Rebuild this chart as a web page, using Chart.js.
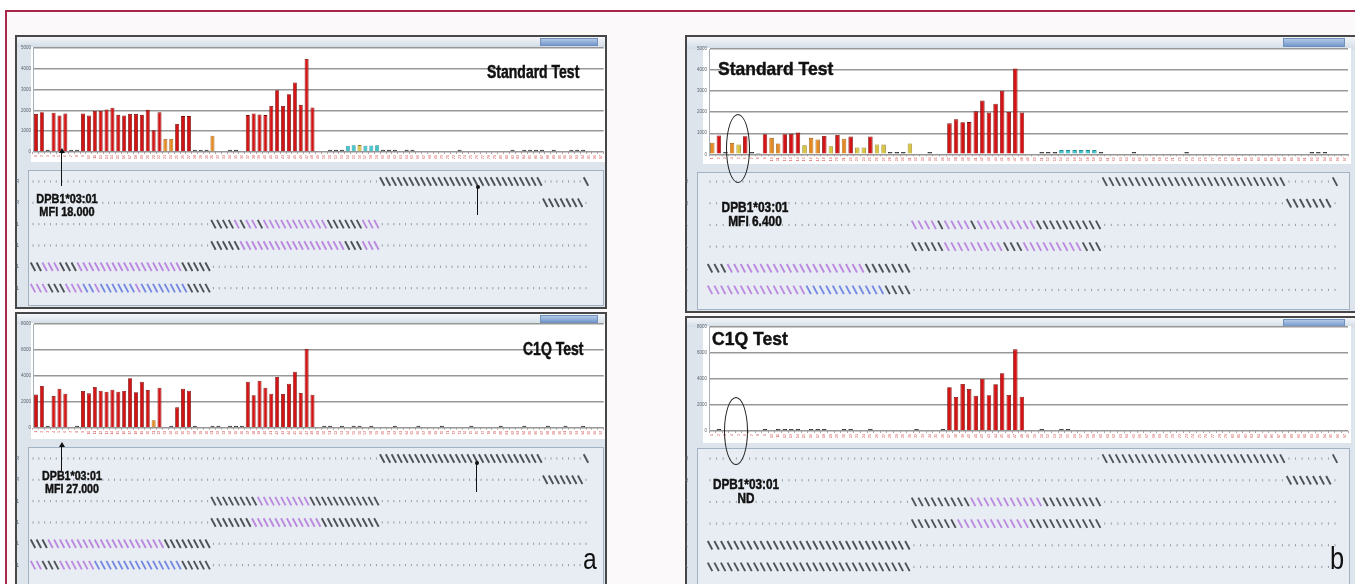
<!DOCTYPE html>
<html>
<head>
<meta charset="utf-8">
<title>Standard test vs C1Q test</title>
<script src="https://cdn.jsdelivr.net/npm/chart.js@4.4.1/dist/chart.umd.min.js"></script>
<style>
  html, body { margin: 0; padding: 0; }
  body { width: 1355px; height: 584px; overflow: hidden; position: relative; background: #ffffff;
         font-family: 'Liberation Sans', Arial, sans-serif; }
  .abs { position: absolute; box-sizing: border-box; }
  canvas.abs { box-sizing: content-box; }
  .frame { background: #fcf9fa; border-top: 2px solid #a8284a; border-left: 2px solid #a8284a; }
  .panel { background: #dde4ec; border: 2px solid #474747; }
  .strip { background: linear-gradient(#f3f6f9, #d3dce6); }
  .plot { background: #ffffff; }
  .annot { background: #e8edf3; border: 1px solid #a3b2c2; }
  .drop { background: linear-gradient(#b2c8e6, #7599cc); border: 1px solid #7090c0; }
  .txt { white-space: nowrap; color: #111; font-weight: bold; line-height: 1; -webkit-text-stroke: 0.45px #111; }
  .ell { border: 1.4px solid #1e1e1e; border-radius: 50%; }
</style>
</head>
<body>
<script>
// bead numbers under the bars
const beadLabels = ['1','2','3','4','5','6','7','8','9','10','11','12','13','14','15','16','17','18','19','20',
  '21','22','23','24','25','26','27','28','29','30','31','32','33','34','35','36','37','38','39','40',
  '41','42','43','44','45','46','47','48','49','50','51','52','53','54','55','56','57','58','59','60',
  '61','62','63','64','65','66','67','68','69','70','71','72','73','74','75','76','77','78','79','80',
  '81','82','83','84','85','86','87','88','89','90','91','92','93','94','95','96','97'];
const stdTicks = [0, 1000, 2000, 3000, 4000, 5000];
const c1qTicks = [0, 2000, 4000, 6000, 8000];

// MFI per bead, panel a (standard test / C1Q test)
const aStdMfi = [1830,1910,110,1880,1750,1850,110,110,1850,1750,
  1970,1970,2040,2120,1780,1750,1830,1830,1780,2020,
  1040,1900,620,620,1340,1720,1720,110,110,110,
  780,0,0,110,110,0,1770,1850,1800,1770,
  2210,2960,2210,2770,3330,2260,4460,2130,0,0,
  110,110,110,300,320,330,300,310,320,110,
  110,110,0,110,110,0,0,0,0,0,
  0,0,110,0,0,0,0,0,0,0,
  0,110,0,110,110,110,110,0,110,0,
  0,110,110,110,0,0,0];
const aStdClass = 'rrdrrrddrr' + 'rrrrrrrrrr' + 'rroorrrddd' + 'o--dd-rrrr' + 'rrrrrrrr--' +
  'dddccycccd' + 'dd-dd-----' + '--d-------' + '-d-dddd-d-' + '-ddd---';

const aC1qMfi = [2570,3220,150,2440,3010,2620,0,150,2830,2650,
  3140,2860,2780,2930,2780,2830,3810,2730,3550,2910,
  570,3090,0,150,1570,3010,2860,150,0,0,
  150,150,0,150,150,150,3550,2500,3630,3090,
  2620,3910,2600,3400,4320,2680,6070,2550,0,150,
  150,0,150,0,150,150,0,150,0,0,
  0,150,0,0,0,150,0,0,0,150,
  0,0,0,0,150,0,0,0,0,150,
  0,0,0,150,0,0,0,150,0,0,
  150,0,0,150,0,0,0];
const aC1qClass = 'rrdrrr-drr' + 'rrrrrrrrrr' + 'or-drrrd--' + 'dd-dddrrrr' + 'rrrrrrrr-d' +
  'd-d-dd-d--' + '-d---d---d' + '----d----d' + '---d---d--' + 'd--d---';

// MFI per bead, panel b
const bStdMfi = [550,890,110,540,470,860,110,60,950,780,
  510,950,970,1030,430,780,700,870,380,920,
  740,840,320,320,850,470,460,110,110,110,
  510,0,0,110,0,0,1470,1660,1520,1530,
  2040,2550,1980,2400,3020,2010,4080,1980,0,0,
  110,110,110,200,200,200,200,200,200,110,
  0,0,0,0,110,0,0,0,0,0,
  0,0,110,0,0,0,0,0,0,0,
  0,0,0,0,0,0,0,0,0,0,
  0,110,110,110,0,0,0];
const bStdClass = 'ordoyrddro' + 'orrryooryr' + 'oryyryyddd' + 'y--d--rrrr' + 'rrrrrrrr--' +
  'dddccccccd' + '----d-----' + '--d-------' + '----------' + '-ddd---';

const bC1qMfi = [0,150,0,0,0,0,0,0,150,0,
  150,150,150,150,0,150,150,150,0,0,
  150,150,0,0,150,0,0,0,0,0,
  0,150,0,0,0,150,3340,2600,3590,3210,
  2700,4000,2730,3570,4410,2750,6240,2620,0,0,
  150,0,0,150,150,0,0,0,0,0,
  0,0,0,0,0,0,0,0,0,0,
  0,0,0,0,0,0,0,0,0,0,
  0,0,0,0,0,0,0,0,0,0,
  0,0,0,0,0,0,0];
const bC1qClass = '-d------d-' + 'dddd-ddd--' + 'dd--d-----' + '-d---drrrr' + 'rrrrrrrr--' +
  'd--dd-----' + '----------' + '----------' + '----------' + '-------';

// antigen strip under each chart: which bead slots carry each locus
const hlaRows = ['DR', 'DR', 'DQA1', 'DQB1', 'DPA1', 'DPB1'];
const slotCount = 96;
const hatchFrom = [60, 88, 31, 31, 0, 0];
const hatchTo = [87, 94, 59, 59, 30, 30];
const hatchExtra = [[95], [], [], [], [], []];

const fills = { r: '#d41414', o: '#e58a22', y: '#d8c440', c: '#40c4cc', d: '#333333', '-': '#333333' };
const edges = { r: '#7a0808', o: '#9a5a12', y: '#8a7a1c', c: '#1f8a90', d: '#1e1e1e', '-': '#1e1e1e' };
const tones = { g: '#4e5257', p: '#bb8ae0', b: '#7488e2' };

function place(cls, l, t, w, h) {
  const d = document.createElement('div');
  d.className = 'abs ' + cls;
  d.style.left = l + 'px';
  d.style.top = t + 'px';
  d.style.width = w + 'px';
  d.style.height = h + 'px';
  document.body.appendChild(d);
  return d;
}

function canvasAt(l, t, w, h) {
  const c = document.createElement('canvas');
  c.className = 'abs';
  c.width = w;
  c.height = h;
  c.style.left = l + 'px';
  c.style.top = t + 'px';
  document.body.appendChild(c);
  return c;
}

function barChart(l, t, w, h, values, classes, ticks, lay) {
  const cv = canvasAt(l, t, w, h);
  const cls = classes.split('');
  new Chart(cv, {
    type: 'bar',
    data: {
      labels: beadLabels,
      datasets: [{
        data: values,
        backgroundColor: cls.map(c => fills[c]),
        borderColor: cls.map(c => edges[c]),
        borderWidth: 0.8,
        borderSkipped: 'start',
        barPercentage: lay.bar,
        categoryPercentage: 1
      }]
    },
    options: {
      responsive: false,
      animation: false,
      events: [],
      layout: { autoPadding: false, padding: { top: lay.padTop, right: lay.padRight, left: 0, bottom: 0 } },
      plugins: { legend: { display: false }, tooltip: { enabled: false } },
      scales: {
        x: {
          grid: { display: true, drawOnChartArea: false, tickLength: 2, color: '#b9a0a0' },
          border: { display: false },
          ticks: { autoSkip: false, maxRotation: 90, minRotation: 90, font: { size: 3.5 }, color: '#d24848', padding: 1 },
          afterFit: s => { s.height = lay.xh; }
        },
        y: {
          min: 0,
          max: ticks[ticks.length - 1],
          ticks: { stepSize: ticks[1] - ticks[0], font: { size: 4.5 }, color: '#5a636c', padding: 2,
                   callback: v => ticks.includes(v) ? String(v) : '' },
          grid: { color: '#979797', lineWidth: 1.4, drawTicks: false },
          border: { display: true, color: '#a8b0b8' },
          afterFit: s => { s.width = lay.yw; }
        }
      }
    }
  });
}

function hlaChart(l, t, w, h, lay, colours) {
  const cv = canvasAt(l, t, w, h);
  const hatch = [], hatchCol = [], dots = [];
  hlaRows.forEach((name, r) => {
    const on = new Set(hatchExtra[r]);
    for (let s = hatchFrom[r]; s <= hatchTo[r]; s++) on.add(s);
    const pat = colours[r] || '';
    let k = 0;
    for (let s = 0; s < slotCount; s++) {
      if (on.has(s)) {
        hatch.push({ x: s, y: r });
        hatchCol.push(tones[pat[k++]] || tones.g);
      } else {
        dots.push({ x: s, y: r });
      }
    }
  });
  new Chart(cv, {
    type: 'scatter',
    data: {
      datasets: [
        { data: dots, pointStyle: 'line', pointRadius: 1.1, pointRotation: 90,
          pointBorderColor: '#969ca4', pointBorderWidth: 1 },
        { data: hatch, pointStyle: 'line', pointRadius: 4.8, pointRotation: 62,
          pointBorderColor: hatchCol, pointBorderWidth: 1.9 }
      ]
    },
    options: {
      responsive: false,
      animation: false,
      events: [],
      layout: { autoPadding: false, padding: { top: 0, bottom: 0, left: 0, right: lay.padRight } },
      plugins: { legend: { display: false }, tooltip: { enabled: false } },
      scales: {
        x: { type: 'linear', display: false, min: lay.min, max: lay.max },
        y: {
          type: 'linear', reverse: true, min: -0.35, max: 5.65,
          afterBuildTicks: s => { s.ticks = hlaRows.map((_, i) => ({ value: i })); },
          ticks: { callback: (v, i) => hlaRows[i] || '', font: { size: 5 }, color: '#55606a', padding: 1 },
          grid: { display: false },
          border: { display: false },
          afterFit: s => { s.width = lay.yw; }
        }
      }
    }
  });
}

function text(str, l, t, size, sx, weight) {
  const d = document.createElement('div');
  d.className = 'abs txt';
  d.textContent = str;
  d.style.left = l + 'px';
  d.style.top = t + 'px';
  d.style.fontSize = size + 'px';
  if (weight) { d.style.fontWeight = weight; d.style.webkitTextStroke = '0px'; }
  d.style.transform = 'scaleX(' + sx + ')';
  d.style.transformOrigin = '0 0';
  document.body.appendChild(d);
  return d;
}

function note(lines, cx, t, size, sx) {
  const d = document.createElement('div');
  d.className = 'abs txt';
  d.style.left = (cx - 70) + 'px';
  d.style.top = t + 'px';
  d.style.width = '140px';
  d.style.textAlign = 'center';
  d.style.fontSize = size + 'px';
  d.style.transform = 'scaleX(' + sx + ')';
  d.style.transformOrigin = '50% 0';
  d.innerHTML = lines.join('<br>');
  document.body.appendChild(d);
}

function arrow(x, y1, y2, dot) {
  const ln = place('', x, y1, 1.2, y2 - y1);
  ln.style.background = '#111';
  if (dot) {
    const h = place('', x - 1.4, y1 - 1.5, 4, 4);
    h.style.background = '#111';
    h.style.borderRadius = '50%';
  } else {
    const h = place('', x - 2.4, y1 - 4, 0, 0);
    h.style.borderLeft = '3px solid transparent';
    h.style.borderRight = '3px solid transparent';
    h.style.borderBottom = '5px solid #111';
  }
}

// page frame
place('frame', 5, 10, 1360, 580);

// ---- panel a, standard test ----
place('panel', 15, 35, 592, 274);
place('strip', 17, 37, 588, 10);
place('drop', 540, 38, 58, 8);
place('plot', 31, 47, 574, 115);
place('annot', 28, 170, 576, 136);
barChart(15, 37, 591, 126, aStdMfi, aStdClass, stdTicks, { yw: 18, padTop: 10.7, padRight: 2, xh: 11, bar: 0.68 });
hlaChart(15, 170, 589, 136, { yw: 13, padRight: 0, min: -0.86, max: 98.1 }, [
  'g', 'g',
  'ggggpgppgpppppppppppggggggppp',
  'gggggppppppppppppppppppgggppp',
  'ggpppgggppppppppppppppppppggggg',
  'pppgggpppbbpbbbbbbpbbbbbbbbgggg'
]);

// ---- panel a, C1Q test ----
place('panel', 15, 312, 592, 290);
place('strip', 17, 314, 588, 10);
place('drop', 540, 315, 58, 8);
place('plot', 31, 323, 574, 116);
place('annot', 28, 447, 576, 145);
barChart(15, 314, 591, 125, aC1qMfi, aC1qClass, c1qTicks, { yw: 18, padTop: 10, padRight: 2, xh: 11.3, bar: 0.68 });
hlaChart(15, 447, 589, 136, { yw: 13, padRight: 0, min: -0.86, max: 98.1 }, [
  'g', 'g',
  'ggggggggpppppppppgggggggggggg',
  'gggggggppppppppppppgggggggggg',
  'gggppppppppppppppppppppgggggggg',
  'ppgggppppppbbbbbbbbbbbbbbbggggg'
]);

// ---- panel b, standard test ----
place('panel', 685, 35, 690, 278);
place('strip', 687, 37, 680, 12);
place('drop', 1283, 38, 62, 9);
place('plot', 703, 48, 648, 116);
place('annot', 697, 172, 653, 138);
barChart(685, 38, 665, 128, bStdMfi, bStdClass, stdTicks, { yw: 24, padTop: 11, padRight: 2, xh: 11.7, bar: 0.68 });
hlaChart(685, 170, 665, 138, { yw: 12, padRight: 0, min: -1.98, max: 97.28 }, [
  'g', 'g',
  'ppppgppppgpppppppppgggggggggg',
  'gggggpppppppppgggpppppppppggg',
  'gggpppppppppppppppppppppggggggg',
  'pppppppppppppppbbbbbbbbbbbbgggg'
]);

// ---- panel b, C1Q test ----
place('panel', 685, 316, 690, 290);
place('strip', 687, 318, 680, 9);
place('drop', 1283, 319, 62, 8);
place('plot', 703, 326, 648, 117);
place('annot', 697, 448, 653, 145);
barChart(685, 316, 665, 127, bC1qMfi, bC1qClass, c1qTicks, { yw: 24, padTop: 10.3, padRight: 2, xh: 12, bar: 0.68 });
hlaChart(685, 447, 665, 138, { yw: 12, padRight: 0, min: -1.98, max: 97.28 }, [
  'g', 'g',
  'gggggggggpppppppppppggggggggg',
  'gggggggpppppppppppggggggggggg',
  'g', 'g'
]);

// titles and call-outs
text('Standard Test', 487, 64, 17.5, 0.8);
text('C1Q Test', 523, 341, 17.5, 0.8);
text('Standard Test', 718, 59, 19, 0.92);
text('C1Q Test', 712, 330, 18.5, 0.95);

note(['DPB1*03:01', 'MFI 18.000'], 67, 192, 13, 0.84);
note(['DPB1*03:01', 'MFI 27.000'], 72, 469, 13, 0.82);
note(['DPB1*03:01', 'MFI 6.400'], 755, 200, 14, 0.85);
note(['DPB1*03:01', 'ND'], 746, 477, 14, 0.84);

arrow(61, 152, 186, false);
arrow(477, 186, 215, true);
arrow(61, 446, 471, false);
arrow(476, 462, 492, true);

place('ell', 726, 114, 24, 69);
place('ell', 724, 397, 24, 68);

text('a', 583, 545, 29, 0.85, 'normal');
text('b', 1330, 543, 31, 0.82, 'normal');
</script>
</body>
</html>
